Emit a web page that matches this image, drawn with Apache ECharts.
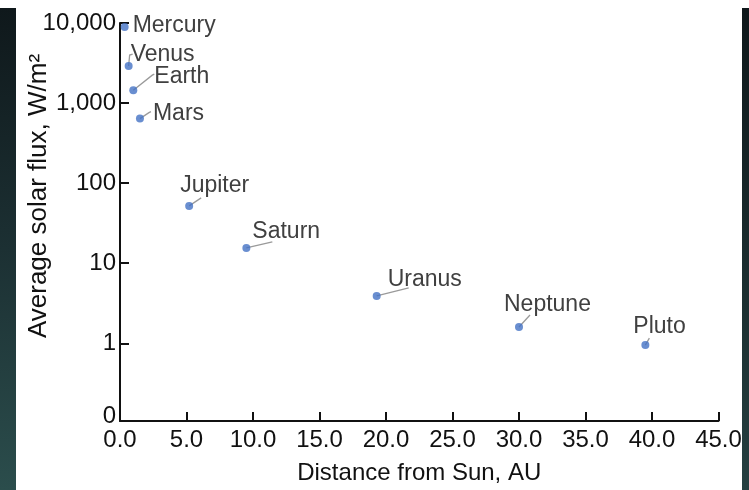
<!DOCTYPE html>
<html>
<head>
<meta charset="utf-8">
<script src="https://cdn.jsdelivr.net/npm/echarts@6/dist/echarts.min.js"></script>
<style>
html,body{margin:0;padding:0;background:#fff;}
#chart{width:749px;height:490px;}
</style>
</head>
<body>
<div id="chart"></div>
<script>
// Data
const planets = ['Mercury','Venus','Earth','Mars','Jupiter','Saturn','Uranus','Neptune','Pluto'];
const distanceAU = [0.35, 0.65, 1.0, 1.5, 5.2, 9.5, 19.3, 30.0, 39.5];
const solarFlux = [8900, 2900, 1450, 640, 52, 15.5, 3.9, 1.6, 0.95];
const yTickValues = [1, 10, 100, 1000, 10000];
const yTickLabels = ['1', '10', '100', '1,000', '10,000'];
const yBottomLabel = '0';

// Label placement relative to each point (layout only): text anchor and leader line path
const textOffset = [[8,10],[2,0],[21,-2],[13,7],[-9,-9],[6,-5],[11,-5],[-15,-11],[-12,-7]];
const leaderPath = [[], [[1,-11],[4,-12]], [[19,-15],[21,-16]], [[9,-6],[11,-7]], [[12,-8]], [[26,-6]], [[32,-8]], [[11,-12]], [[4,-7]]];

const FONT = 'Liberation Sans, Arial, sans-serif';
const chart = echarts.init(document.getElementById('chart'), null, {renderer:'canvas'});
const pointData = distanceAU.map((d,i)=>[d, solarFlux[i]]);
const option = {
  backgroundColor: '#ffffff',
  animation: false,
  graphic: [
    {type:'rect', left:0, top:8, shape:{width:16, height:482}, z:-10,
     style:{fill:new echarts.graphic.LinearGradient(0,0,0,1,[{offset:0,color:'#0f181b'},{offset:0.5,color:'#1c3033'},{offset:1,color:'#2b4d4c'}])}},
    {type:'rect', left:742, top:8, shape:{width:7, height:482}, z:-10,
     style:{fill:new echarts.graphic.LinearGradient(0,0,0,1,[{offset:0,color:'#0f181b'},{offset:0.5,color:'#1a2b2d'},{offset:1,color:'#253f40'}])}}
  ],
  grid: {left:120, right:30.5, top:23, bottom:66, containLabel:false},
  xAxis: {
    type:'value', min:0, max:45, interval:5,
    name:'Distance from Sun, AU', nameLocation:'middle', nameGap:40,
    nameTextStyle:{fontFamily:FONT, fontSize:24, color:'#111'},
    axisLine:{show:true, lineStyle:{color:'#111', width:2}},
    axisTick:{show:true, inside:true, length:9, lineStyle:{color:'#111', width:2}},
    axisLabel:{fontFamily:FONT, fontSize:24, color:'#111', margin:7,
      formatter:(v)=>v.toFixed(1)},
    splitLine:{show:false}
  },
  yAxis: {
    type:'log', logBase:10, min:0.107, max:10000,
    name:'Average solar flux, W/m²', nameLocation:'middle', nameGap:68, nameMoveOverlap:false,
    nameTextStyle:{fontFamily:FONT, fontSize:26, color:'#111', padding:[0,0,0,52]},
    axisLine:{show:true, lineStyle:{color:'#111', width:2}},
    axisTick:{show:true, inside:true, length:9, lineStyle:{color:'#111', width:2}},
    axisLabel:{fontFamily:FONT, fontSize:24, color:'#111', margin:4, showMinLabel:true,
      rich:{z:{fontFamily:FONT, fontSize:24, color:'#111', padding:[0,0,9,0]}},
      formatter:(v)=>{
        if (v < 1) return '{z|' + yBottomLabel + '}';
        const i = yTickValues.findIndex(t=>Math.abs(Math.log10(t)-Math.log10(v))<1e-6);
        return i>=0 ? yTickLabels[i] : '';
      }},
    splitLine:{show:false}
  },
  series: [
    {
      type:'custom',
      z:2,
      data: pointData,
      renderItem:(params, api)=>{
        const i = params.dataIndex;
        const c = api.coord([api.value(0), api.value(1)]);
        const children = [];
        const path = leaderPath[i];
        if (path.length) {
          const pts = [[c[0], c[1]]].concat(path.map(p=>[c[0]+p[0], c[1]+p[1]]));
          children.push({type:'polyline', shape:{points:pts},
            style:{stroke:'#9a9a9a', lineWidth:1.3, fill:null}});
        }
        children.push({type:'text', x:c[0]+textOffset[i][0], y:c[1]+textOffset[i][1],
          style:{text:planets[i], fontFamily:FONT, fontSize:23, fill:'#404040',
            textAlign:'left', verticalAlign:'bottom'}});
        return {type:'group', children};
      }
    },
    {
      type:'scatter',
      z:3,
      symbol:'circle', symbolSize:8,
      itemStyle:{color:'#4472c4'},
      data: pointData
    }
  ]
};
chart.setOption(option);
</script>
</body>
</html>
